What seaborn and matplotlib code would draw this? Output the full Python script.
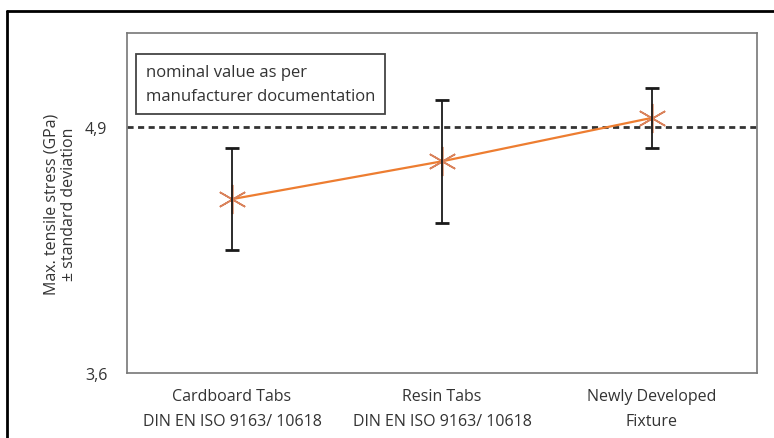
import numpy as np
import pandas as pd
import matplotlib.pyplot as plt
from matplotlib.lines import Line2D
import seaborn as sns

# Daten
kategorien = ["Cardboard Tabs\nDIN EN ISO 9163/ 10618",
              "Resin Tabs\nDIN EN ISO 9163/ 10618",
              "Newly Developed\nFixture"]
mittelwerte = [4.52, 4.72, 4.95]
std_abw = [0.27, 0.325, 0.16]
nennwert = 4.9
y_ticks = [3.6, 4.9]
y_tick_labels = ["3,6", "4,9"]

sns.set_theme(style="white")
plt.rcParams["font.family"] = ["Open Sans", "DejaVu Sans"]

df = pd.DataFrame({"pos": np.arange(len(kategorien)),
                   "mittel": mittelwerte,
                   "sd": std_abw})

fig = plt.figure(figsize=(7.74, 4.39), dpi=100)
ax = fig.add_axes([0.164, 0.148, 0.814, 0.775])

# Nennwert laut Hersteller
ax.axhline(nennwert, color="#333333", lw=2, dashes=(2.2, 1.6), zorder=1)

sns.lineplot(data=df, x="pos", y="mittel", ax=ax, color="#ED7D31", lw=1.6,
             marker=(6, 2, 0), markersize=21, markeredgewidth=1.2,
             markeredgecolor="#D9825B", zorder=3)
ax.errorbar(df["pos"], df["mittel"], yerr=df["sd"], fmt="none",
            ecolor="#1a1a1a", elinewidth=1.3, capsize=5, capthick=2, zorder=4)

ax.set_xlim(-0.5, 2.5)
ax.set_ylim(3.6, 5.4)
ax.set_xticks(df["pos"])
ax.set_xticklabels(kategorien, fontsize=11.5, color="#333333", linespacing=1.75)
ax.set_yticks(y_ticks)
ax.set_yticklabels(y_tick_labels, fontsize=11.5, color="#333333")
ax.tick_params(axis="x", length=0, pad=11)
ax.tick_params(axis="y", length=0, pad=14)
ax.set_xlabel("")
ax.set_ylabel("Max. tensile stress (GPa)\n± standard deviation",
              fontsize=11.5, color="#333333", labelpad=6, linespacing=1.1)

for s in ax.spines.values():
    s.set_color("#777777")
    s.set_linewidth(1.2)

ax.text(0.03, 0.85, "nominal value as per\nmanufacturer documentation",
        transform=ax.transAxes, fontsize=12, color="#333333", va="center",
        linespacing=1.65,
        bbox=dict(boxstyle="square,pad=0.6", fc="white", ec="#444444", lw=1.3))

# äußerer Rahmen (oben und links sichtbar)
fig.add_artist(Line2D([0.009, 1.0], [0.973, 0.973], color="black", lw=2,
                      transform=fig.transFigure))
fig.add_artist(Line2D([0.009, 0.009], [0.0, 0.973], color="black", lw=2,
                      transform=fig.transFigure))

fig.savefig("out.png", dpi=100)
